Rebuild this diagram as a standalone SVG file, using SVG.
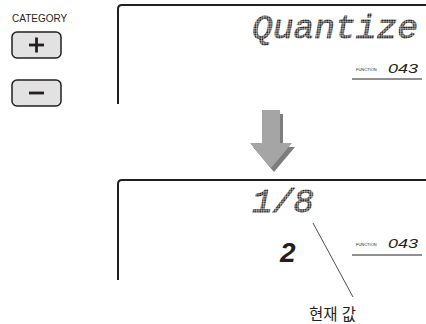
<svg xmlns="http://www.w3.org/2000/svg" width="426" height="324" viewBox="0 0 426 324">
  <defs>
    <pattern id="dots" width="2.4" height="2.4" patternUnits="userSpaceOnUse">
      <rect x="0.2" y="0.2" width="1.8" height="1.8" fill="#1a1718"/>
    </pattern>
    <style>
      .frame{fill:none;stroke:#231f20;stroke-width:2}
      .btn{fill:#e2e2e2;stroke:#231f20;stroke-width:1.5}
      .sign{stroke:#231f20;stroke-width:2.8;stroke-linecap:butt}
      .dm{font-family:"Liberation Mono",monospace;font-style:italic;fill:url(#dots);stroke:url(#dots);stroke-width:0.9}
      .fn{font-family:"Liberation Sans",Arial,sans-serif;font-size:4px;fill:#231f20}
      .seg{font-family:"Liberation Sans",Arial,sans-serif;font-style:italic;fill:#231f20}
      .lbl{font-family:"Liberation Sans","Noto Sans CJK KR",sans-serif;fill:#231f20}
      .ul{stroke:#231f20;stroke-width:1}
    </style>
  </defs>
  <rect width="426" height="324" fill="#ffffff"/>

  <g id="category">
    <text class="lbl" x="12" y="22" font-size="10">CATEGORY</text>
  </g>
  <g id="btn-plus">
    <rect class="btn" x="12" y="32" width="49" height="26" rx="5"/>
    <line class="sign" x1="29" y1="45" x2="44" y2="45"/>
    <line class="sign" x1="36.5" y1="37.5" x2="36.5" y2="52.5"/>
  </g>
  <g id="btn-minus">
    <rect class="btn" x="12" y="80" width="49" height="26" rx="5"/>
    <line class="sign" x1="29" y1="93" x2="44" y2="93"/>
  </g>

  <g id="display-top">
    <path class="frame" d="M118,104 V9 Q118,5 122,5 H426"/>
    <text class="dm" x="252" y="38" font-size="34" textLength="166" lengthAdjust="spacingAndGlyphs">Quantize</text>
    <text class="fn" x="356" y="71">FUNCTION</text>
    <text class="seg" x="388" y="73" font-size="13" textLength="30" lengthAdjust="spacingAndGlyphs">043</text>
    <line class="ul" x1="352" y1="79" x2="422" y2="79"/>
  </g>

  <g id="arrow">
    <polygon points="265,114 283,114 283,147 295,147 274,172 253,147 265,147" fill="#7d7d7d"/>
    <polygon points="262,110 280,110 280,143 292,143 271,168 250,143 262,143" fill="#a5a5a5"/>
  </g>

  <g id="display-bottom">
    <path class="frame" d="M118,280 V184 Q118,180 122,180 H426"/>
    <text class="dm" x="252" y="212" font-size="34" textLength="62" lengthAdjust="spacingAndGlyphs">1/8</text>
    <text class="seg" x="280" y="262" font-size="28" font-weight="bold">2</text>
    <text class="fn" x="356" y="246">FUNCTION</text>
    <text class="seg" x="388" y="248" font-size="13" textLength="30" lengthAdjust="spacingAndGlyphs">043</text>
    <line class="ul" x1="352" y1="255" x2="422" y2="255"/>
  </g>

  <g id="connectors">
    <line x1="313" y1="223" x2="353" y2="297" stroke="#231f20" stroke-width="0.8"/>
  </g>

  <g id="label-current">
    <text class="lbl" x="309" y="320" font-size="15.5">현재 값</text>
  </g>
</svg>
